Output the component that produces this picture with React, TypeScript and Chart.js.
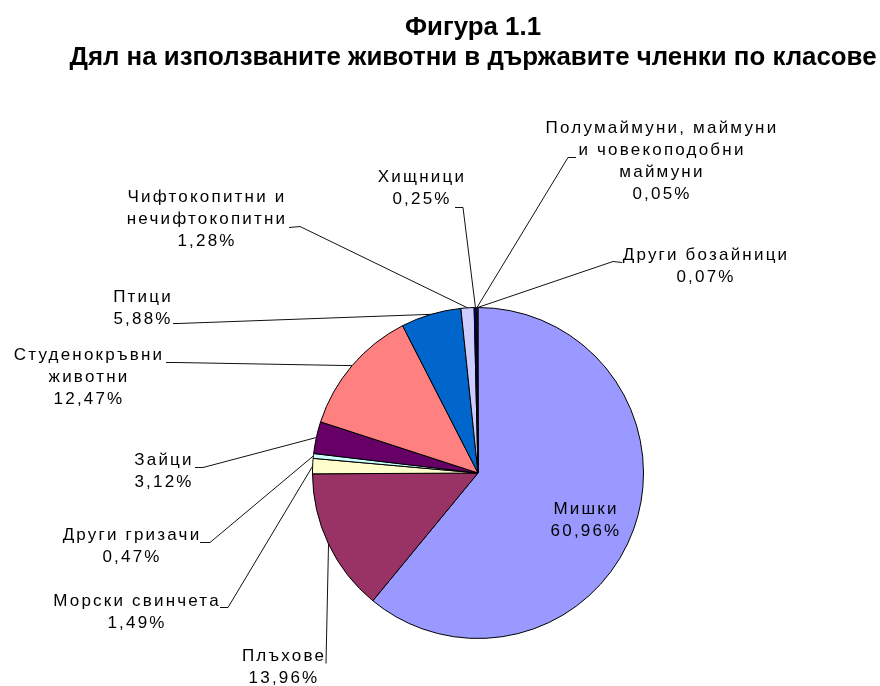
import React, { useEffect, useRef } from "react";
import { Chart, registerables } from "chart.js";

Chart.register(...registerables);

// ---- data ----
const categories = [
  "Мишки",
  "Плъхове",
  "Морски свинчета",
  "Други гризачи",
  "Зайци",
  "Студенокръвни\nживотни",
  "Птици",
  "Чифтокопитни и\nнечифтокопитни",
  "Хищници",
  "Полумаймуни, маймуни\nи човекоподобни\nмаймуни",
  "Други бозайници",
];
const shares = [60.96, 13.96, 1.49, 0.47, 3.12, 12.47, 5.88, 1.28, 0.25, 0.05, 0.07];
const sliceColors = [
  "#9999FF",
  "#993366",
  "#FFFFCC",
  "#CCFFFF",
  "#660066",
  "#FF8080",
  "#0066CC",
  "#CCCCFF",
  "#000080",
  "#FF00FF",
  "#FFFF00",
];
const titleLines = [
  "Фигура 1.1",
  "Дял на използваните животни в държавите членки по класове",
];

// ---- layout (label placement, leader-line routes) ----
type LabelLayout = { x: number; y: number; leader?: number[][] };
const labelLayout: LabelLayout[] = [
  { x: 585, y: 509 },
  { x: 283, y: 656, leader: [[326, 663]] },
  { x: 136, y: 601, leader: [[220, 607], [228, 607]] },
  { x: 131, y: 535, leader: [[200, 542], [210, 542]] },
  { x: 163, y: 460, leader: [[195, 467], [203, 467]] },
  { x: 88, y: 355, leader: [[166, 362], [176, 362]] },
  { x: 142, y: 297, leader: [[173, 323], [178, 323]] },
  { x: 206, y: 197, leader: [[289, 227], [300, 226]] },
  { x: 421, y: 177, leader: [[455, 207], [463, 207]] },
  { x: 661, y: 128, leader: [[576, 157], [568, 157]] },
  { x: 705, y: 255, leader: [[622, 262], [613, 261]] },
];
const LINE_H = 22;

const fmtPct = (v: number) => v.toFixed(2).replace(".", ",") + "%";

const labelsPlugin = {
  id: "pieLabels",
  afterDatasetsDraw(chart: any) {
    const ctx: CanvasRenderingContext2D = chart.ctx;
    const meta = chart.getDatasetMeta(0);
    ctx.save();
    // leader lines
    ctx.strokeStyle = "#111";
    ctx.lineWidth = 1;
    meta.data.forEach((arc: any, i: number) => {
      const lay = labelLayout[i];
      if (!lay || !lay.leader) return;
      const { x, y, startAngle, endAngle, outerRadius } = arc.getProps(
        ["x", "y", "startAngle", "endAngle", "outerRadius"],
        true
      );
      const mid = (startAngle + endAngle) / 2;
      const ex = x + Math.cos(mid) * outerRadius;
      const ey = y + Math.sin(mid) * outerRadius;
      ctx.beginPath();
      lay.leader.forEach((p, k) => {
        if (k === 0) ctx.moveTo(p[0], p[1] + 0.5);
        else ctx.lineTo(p[0], p[1] + 0.5);
      });
      ctx.lineTo(ex, ey);
      ctx.stroke();
    });

    // labels
    ctx.fillStyle = "#000";
    ctx.font = '17px "Liberation Sans", Arial, sans-serif';
    (ctx as any).letterSpacing = "2.2px";
    ctx.textAlign = "center";
    ctx.textBaseline = "middle";
    categories.forEach((cat, i) => {
      const lay = labelLayout[i];
      const lines = cat.split("\n").concat([fmtPct(shares[i])]);
      lines.forEach((ln, k) => {
        ctx.fillText(ln, lay.x + 1, lay.y + k * LINE_H);
      });
    });

    // title (bold, horizontally condensed)
    (ctx as any).letterSpacing = "0px";
    ctx.font = 'bold 26px "Liberation Sans", Arial, sans-serif';
    ctx.textBaseline = "alphabetic";
    const w2 = ctx.measureText(titleLines[1]).width;
    const sx = 807 / w2;
    ctx.translate(473, 0);
    ctx.scale(sx, 1);
    ctx.fillText(titleLines[0], 0, 35);
    ctx.fillText(titleLines[1], 0, 65);
    ctx.restore();
  },
};

export default function App() {
  const ref = useRef<HTMLCanvasElement | null>(null);
  useEffect(() => {
    if (!ref.current) return;
    const chart = new Chart(ref.current, {
      type: "pie",
      data: {
        labels: categories,
        datasets: [
          {
            data: shares,
            backgroundColor: sliceColors,
            borderColor: "#000",
            borderWidth: 1,
          },
        ],
      },
      options: {
        responsive: false,
        animation: false,
        layout: { padding: { left: 312, right: 236, top: 307, bottom: 47 } },
        plugins: {
          legend: { display: false },
          tooltip: { enabled: false },
          title: { display: false },
        },
      },
      plugins: [labelsPlugin],
    });
    return () => chart.destroy();
  }, []);
  return (
    <div style={{ position: "absolute", left: 0, top: 0, width: 880, height: 686, background: "#fff" }}>
      <canvas ref={ref} width={880} height={686} style={{ display: "block" }} />
    </div>
  );
}
